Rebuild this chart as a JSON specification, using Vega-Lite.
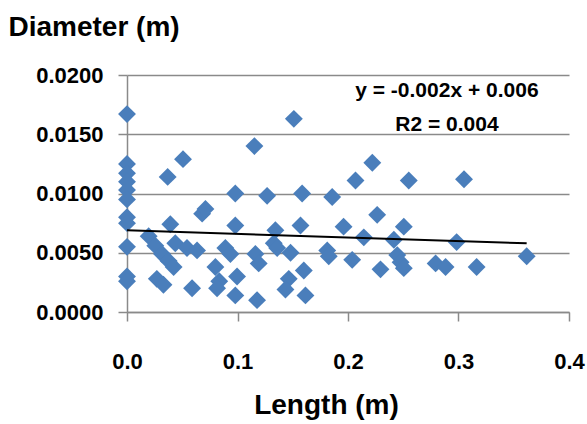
{
  "$schema": "https://vega.github.io/schema/vega-lite/v6.json",
  "autosize": {"type": "none"},
  "width": 442,
  "height": 237,
  "padding": {"left": 127, "top": 75, "right": 18, "bottom": 112},
  "background": "white",
  "config": {
    "view": {"stroke": null},
    "font": "Liberation Sans",
    "axis": {
      "labelFont": "Liberation Sans",
      "labelFontWeight": "bold",
      "labelFontSize": 22,
      "labelColor": "black",
      "labelFlush": false,
      "labelOverlap": false,
      "titleFont": "Liberation Sans",
      "titleFontWeight": "bold",
      "titleFontSize": 28,
      "titleColor": "black",
      "domainColor": "#8a8a8a",
      "domainWidth": 1.5,
      "tickColor": "#8a8a8a",
      "tickWidth": 1.5,
      "gridColor": "#8a8a8a",
      "gridWidth": 1.5
    }
  },
  "datasets": {
    "pts": [
      {"length": 0.0, "diameter": 0.0167},
      {"length": 0.0, "diameter": 0.0125},
      {"length": 0.0, "diameter": 0.0117},
      {"length": 0.0, "diameter": 0.0110},
      {"length": 0.0, "diameter": 0.0103},
      {"length": 0.0, "diameter": 0.0095},
      {"length": 0.0, "diameter": 0.0080},
      {"length": 0.0, "diameter": 0.0075},
      {"length": 0.0, "diameter": 0.0055},
      {"length": 0.0, "diameter": 0.0030},
      {"length": 0.0, "diameter": 0.0026},
      {"length": 0.0196, "diameter": 0.0064},
      {"length": 0.0256, "diameter": 0.0056},
      {"length": 0.0317, "diameter": 0.0049},
      {"length": 0.0377, "diameter": 0.0043},
      {"length": 0.0422, "diameter": 0.0038},
      {"length": 0.027, "diameter": 0.0028},
      {"length": 0.033, "diameter": 0.0023},
      {"length": 0.0368, "diameter": 0.0114},
      {"length": 0.0507, "diameter": 0.0129},
      {"length": 0.0392, "diameter": 0.0074},
      {"length": 0.0437, "diameter": 0.0058},
      {"length": 0.0543, "diameter": 0.0054},
      {"length": 0.0634, "diameter": 0.0052},
      {"length": 0.0589, "diameter": 0.0020},
      {"length": 0.068, "diameter": 0.0083},
      {"length": 0.071, "diameter": 0.0087},
      {"length": 0.089, "diameter": 0.0054},
      {"length": 0.0936, "diameter": 0.0049},
      {"length": 0.080, "diameter": 0.0038},
      {"length": 0.0835, "diameter": 0.0026},
      {"length": 0.0815, "diameter": 0.0020},
      {"length": 0.098, "diameter": 0.0100},
      {"length": 0.098, "diameter": 0.0073},
      {"length": 0.0996, "diameter": 0.0030},
      {"length": 0.098, "diameter": 0.0014},
      {"length": 0.1153, "diameter": 0.0140},
      {"length": 0.1162, "diameter": 0.0049},
      {"length": 0.1192, "diameter": 0.0041},
      {"length": 0.1177, "diameter": 0.0010},
      {"length": 0.1268, "diameter": 0.0098},
      {"length": 0.1343, "diameter": 0.0069},
      {"length": 0.1328, "diameter": 0.0058},
      {"length": 0.1359, "diameter": 0.0054},
      {"length": 0.148, "diameter": 0.0050},
      {"length": 0.1464, "diameter": 0.0028},
      {"length": 0.1434, "diameter": 0.0019},
      {"length": 0.151, "diameter": 0.0163},
      {"length": 0.157, "diameter": 0.0073},
      {"length": 0.1585, "diameter": 0.0100},
      {"length": 0.160, "diameter": 0.0035},
      {"length": 0.1615, "diameter": 0.0014},
      {"length": 0.1812, "diameter": 0.0052},
      {"length": 0.1826, "diameter": 0.0047},
      {"length": 0.1857, "diameter": 0.0097},
      {"length": 0.196, "diameter": 0.0072},
      {"length": 0.2038, "diameter": 0.0044},
      {"length": 0.2068, "diameter": 0.0111},
      {"length": 0.222, "diameter": 0.0126},
      {"length": 0.255, "diameter": 0.0111},
      {"length": 0.305, "diameter": 0.0112},
      {"length": 0.2143, "diameter": 0.0063},
      {"length": 0.2264, "diameter": 0.0082},
      {"length": 0.2294, "diameter": 0.0036},
      {"length": 0.2415, "diameter": 0.0061},
      {"length": 0.2505, "diameter": 0.0072},
      {"length": 0.2446, "diameter": 0.0048},
      {"length": 0.2476, "diameter": 0.0042},
      {"length": 0.2505, "diameter": 0.0037},
      {"length": 0.2793, "diameter": 0.0041},
      {"length": 0.2883, "diameter": 0.0038},
      {"length": 0.2983, "diameter": 0.0059},
      {"length": 0.3164, "diameter": 0.0038},
      {"length": 0.3617, "diameter": 0.0047}
    ],
    "trend": [
      {"length": 0.0, "diameter": 0.0069},
      {"length": 0.3617, "diameter": 0.0058}
    ],
    "labels": [
      {"length": 0.2895, "diameter": 0.01817, "label": "y = -0.002x + 0.006"},
      {"length": 0.2895, "diameter": 0.0153, "label": "R2 = 0.004"}
    ]
  },
  "layer": [
    {
      "data": {"name": "pts"},
      "mark": {"type": "point", "shape": "diamond", "filled": true, "size": 320, "color": "#4a7ebb", "opacity": 1, "strokeWidth": 0},
      "encoding": {
        "x": {
          "field": "length", "type": "quantitative",
          "scale": {"domain": [0, 0.4], "nice": false, "zero": false},
          "axis": {
            "values": [0, 0.1, 0.2, 0.3, 0.4], "format": ".1f", "grid": false,
            "tickSize": 9, "labelPadding": 30, "title": "Length (m)",
            "titleAnchor": null, "titleAlign": "center", "titleBaseline": "alphabetic",
            "titleX": 199, "titleY": 101
          }
        },
        "y": {
          "field": "diameter", "type": "quantitative",
          "scale": {"domain": [0, 0.02], "nice": false, "zero": false},
          "axis": {
            "values": [0, 0.005, 0.01, 0.015, 0.02], "format": ".4f", "grid": true,
            "tickSize": 9, "labelPadding": 15, "title": "Diameter (m)",
            "titleAngle": 0, "titleAlign": "left", "titleBaseline": "alphabetic",
            "titleX": -119, "titleY": -40
          }
        }
      }
    },
    {
      "data": {"name": "trend"},
      "mark": {"type": "line", "color": "black", "strokeWidth": 2},
      "encoding": {
        "x": {"field": "length", "type": "quantitative"},
        "y": {"field": "diameter", "type": "quantitative"}
      }
    },
    {
      "data": {"name": "labels"},
      "mark": {"type": "text", "font": "Liberation Sans", "fontWeight": "bold", "fontSize": 21, "align": "center", "baseline": "alphabetic", "color": "black"},
      "encoding": {
        "x": {"field": "length", "type": "quantitative"},
        "y": {"field": "diameter", "type": "quantitative"},
        "text": {"field": "label"}
      }
    }
  ]
}
